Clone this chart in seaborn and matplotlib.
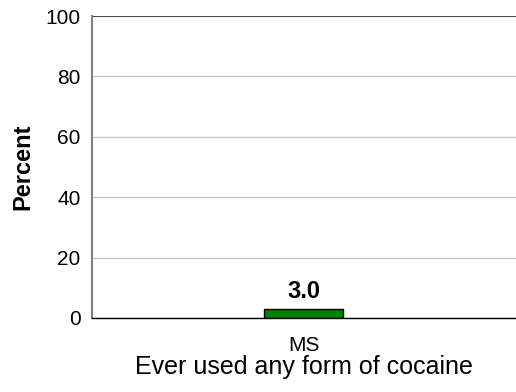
import matplotlib
matplotlib.use("Agg")
import matplotlib.pyplot as plt
import seaborn as sns
import pandas as pd

groups = ["MS"]
values = [3.0]
xlabel = "Ever used any form of cocaine"

sns.set_style("white")
plt.rcParams["font.family"] = ["Liberation Sans", "DejaVu Sans"]
plt.rcParams["text.color"] = "black"
plt.rcParams["axes.labelcolor"] = "black"
plt.rcParams["xtick.color"] = "black"
plt.rcParams["ytick.color"] = "black"

df = pd.DataFrame({"group": groups, "value": values})

fig = plt.figure(figsize=(5.16, 3.92), dpi=100)
ax = fig.add_axes([0.178, 0.189, 0.822, 0.770])

sns.barplot(data=df, x="group", y="value", color="#008000", width=0.186,
            edgecolor="black", linewidth=1, saturation=1, ax=ax, zorder=3)

ax.set_ylim(0, 100)
ax.set_xlim(-0.5, 0.5)
ax.set_yticks([0, 20, 40, 60, 80, 100])
ax.yaxis.grid(True, color="#c8c8c8", linewidth=1, zorder=0)
ax.axhline(100, color="#333333", linewidth=1.2, zorder=2)

for s in ["top", "right"]:
    ax.spines[s].set_visible(False)
ax.spines["left"].set_color("#808080")
ax.spines["left"].set_linewidth(1.5)
ax.spines["bottom"].set_color("black")
ax.spines["bottom"].set_linewidth(1)

ax.tick_params(axis="y", length=4, color="#808080", labelsize=15, pad=4)
ax.tick_params(axis="x", length=4, color="#808080", labelsize=15, pad=9)

ax.set_ylabel("Percent", fontsize=17, fontweight="bold", labelpad=8)
ax.set_xlabel(xlabel, fontsize=18, labelpad=0)

for i, v in enumerate(values):
    ax.text(i, v + 2, f"{v:.1f}", ha="center", va="bottom",
            fontsize=17, fontweight="bold")

fig.savefig("out.png", dpi=100)
